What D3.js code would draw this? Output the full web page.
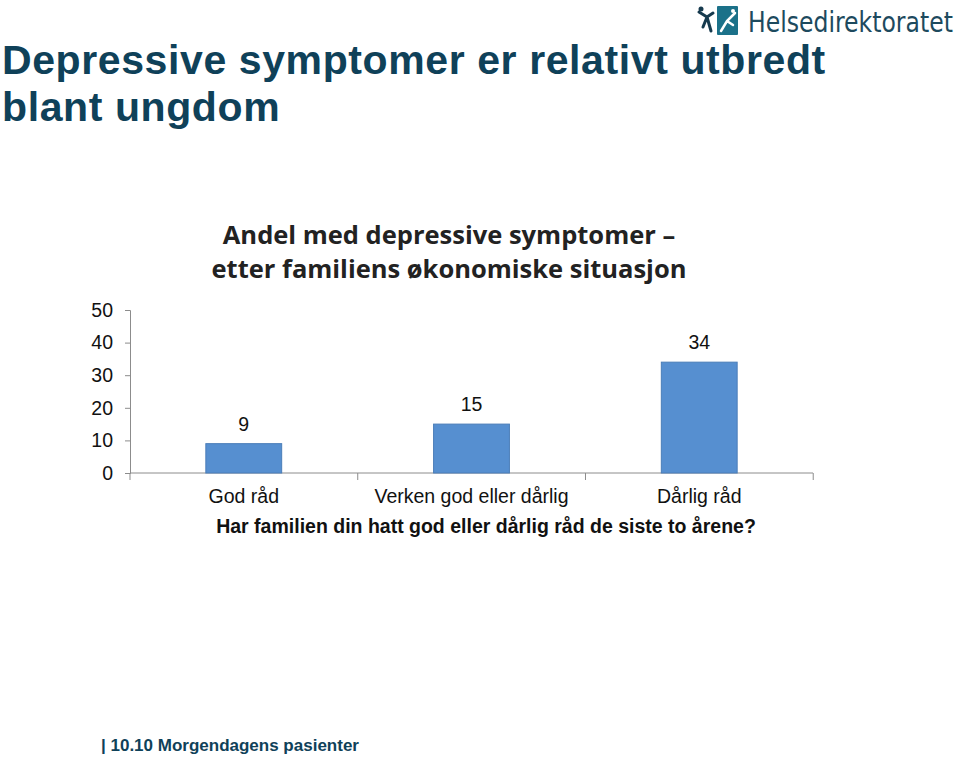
<!DOCTYPE html>
<html><head><meta charset="utf-8">
<script src="https://cdn.jsdelivr.net/npm/d3@7"></script>
<style>body{margin:0;background:#fff}svg{display:block}</style>
</head><body><svg id="c" width="960" height="757"></svg>
<script>
const categories = ["God råd", "Verken god eller dårlig", "Dårlig råd"];
const values = [9, 15, 34];
const yTicks = [0, 10, 20, 30, 40, 50];
const slideTitle = ["Depressive symptomer er relativt utbredt", "blant ungdom"];
const chartTitle = ["Andel med depressive symptomer –", "etter familiens økonomiske situasjon"];
const xAxisTitle = "Har familien din hatt god eller dårlig råd de siste to årene?";
const footer = "| 10.10 Morgendagens pasienter";
const logoText = "Helsedirektoratet";

const svg = d3.select("#c");
const navy = "#0f4159";
const font = "Liberation Sans, Arial, sans-serif";

// slide title
svg.append("g").selectAll("text").data(slideTitle).join("text")
  .attr("x", 2).attr("y", (d,i)=>74+i*47)
  .attr("font-family",font).attr("font-weight","bold")
  .attr("font-size",41).attr("letter-spacing",0.6).attr("fill",navy).text(d=>d);

// logo
const logo = svg.append("g");
logo.append("rect").attr("x",717).attr("y",6).attr("width",21).attr("height",29).attr("fill","#1b7189").attr("rx",1);
logo.append("path").attr("d","M721,31 L727,21 L735,13 M727,21 L733,25").attr("stroke","#fff").attr("stroke-width",2.5).attr("fill","none").attr("stroke-linecap","round");
logo.append("circle").attr("cx",733).attr("cy",11).attr("r",2).attr("fill","#fff");
logo.append("path").attr("d","M699,12 L707,17 L713,13 M707,17 L711,31 M707,17 L703,27").attr("stroke","#163a4e").attr("stroke-width",3).attr("fill","none").attr("stroke-linecap","round");
logo.append("circle").attr("cx",701).attr("cy",9).attr("r",2.5).attr("fill","#163a4e");
const lt = logo.append("text").attr("x",0).attr("y",0).attr("font-family","DejaVu Sans Condensed, DejaVu Sans, sans-serif")
  .attr("font-size",29).attr("fill","#1d4a5e").text(logoText);
const lw = lt.node().getComputedTextLength();
lt.attr("transform",`translate(748,32) scale(${205/lw},1)`);

// chart title
svg.append("g").selectAll("text").data(chartTitle).join("text")
  .attr("x",449).attr("y",(d,i)=>244+i*34).attr("text-anchor","middle")
  .attr("font-family","Open Sans, sans-serif").attr("font-weight","bold")
  .attr("font-size",25.5).attr("fill","#222").text(d=>d);

// scales
const x = d3.scaleBand().domain(categories).range([130,813]).paddingInner(0.667).paddingOuter(0.333);
const y = d3.scaleLinear().domain([0,50]).range([473,310]);

// y axis
const yAxis = svg.append("g").attr("transform","translate(130,0)")
  .call(d3.axisLeft(y).tickValues(yTicks).tickSize(5).tickPadding(12));
yAxis.select(".domain").attr("stroke","#8c8c8c");
yAxis.selectAll(".tick line").attr("stroke","#8c8c8c");
yAxis.selectAll(".tick text").attr("font-family",font).attr("font-size",19.5).attr("fill","#111");

// x axis
const step = x.step();
const xAxis = svg.append("g").attr("transform","translate(0,473)");
xAxis.append("line").attr("x1",130).attr("x2",813).attr("stroke","#8c8c8c");
const bounds = d3.range(categories.length+1).map(i=>130+i*step);
xAxis.selectAll("line.b").data(bounds).join("line").attr("class","b")
  .attr("x1",d=>d).attr("x2",d=>d).attr("y1",0).attr("y2",7).attr("stroke","#8c8c8c");
xAxis.selectAll("text").data(categories).join("text")
  .attr("x",d=>x(d)+x.bandwidth()/2).attr("y",30).attr("text-anchor","middle")
  .attr("font-family",font).attr("font-size",19.5).attr("fill","#111").text(d=>d);

// bars
svg.append("g").selectAll("rect").data(values).join("rect")
  .attr("x",(d,i)=>x(categories[i])).attr("width",x.bandwidth())
  .attr("y",d=>y(d)).attr("height",d=>y(0)-y(d))
  .attr("fill","#568fd0").attr("stroke","#4a7db8").attr("stroke-width",1);

svg.append("g").selectAll("text").data(values).join("text")
  .attr("x",(d,i)=>x(categories[i])+x.bandwidth()/2).attr("y",d=>y(d)-13)
  .attr("text-anchor","middle").attr("font-family",font).attr("font-size",19.5).attr("fill","#111").text(d=>d);

// x axis title
svg.append("text").attr("x",486).attr("y",533).attr("text-anchor","middle")
  .attr("font-family",font).attr("font-weight","bold").attr("font-size",19.5).attr("fill","#111").text(xAxisTitle);

// footer
svg.append("text").attr("x",101).attr("y",751).attr("font-family",font).attr("font-weight","bold")
  .attr("font-size",17).attr("fill",navy).text(footer);
</script></body></html>
